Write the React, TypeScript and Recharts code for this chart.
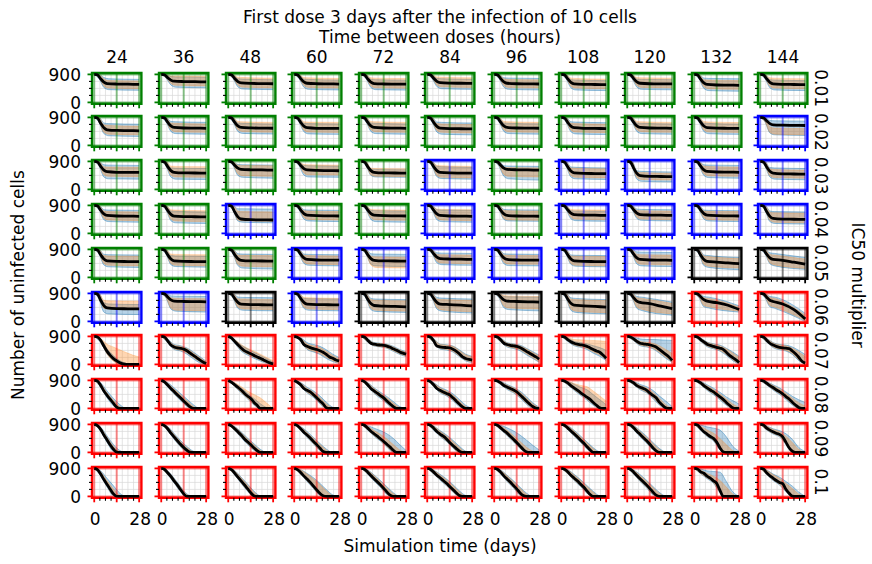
import React from 'react';
import { ComposedChart, Area, Line, XAxis, YAxis, CartesianGrid, ReferenceLine, ReferenceArea } from 'recharts';

const FONT = '"DejaVu Sans", sans-serif';

const DOSE_INTERVALS = [24, 36, 48, 60, 72, 84, 96, 108, 120, 132, 144];
const IC50_MULTIPLIERS = ['0.01', '0.02', '0.03', '0.04', '0.05', '0.06', '0.07', '0.08', '0.09', '0.1'];

const TOP_DAYS = [0, 2, 4, 6, 8, 14, 21, 28];
const TOP_BAND_DAYS = [0, 3, 6, 9, 28];
const LOW_DAYS = [0, 2, 4, 6, 8, 10, 12, 14, 16, 18, 20, 22, 24, 26, 28];
const LOW_BAND_DAYS = [0, 4, 8, 12, 16, 20, 24, 28];
const X_TICKS = [0, 3.5, 7, 10.5, 14, 17.5, 21, 24.5, 28];
const Y_TICKS = [0, 225, 450, 675, 900];
const X_MAJOR = [0, 14, 28];
const Y_MAJOR = [0, 900];

const BORDER_001 = 'GGGGGGGGGGG';
const BORDER_002 = 'GGGGGGGGGGB';
const BORDER_003 = 'GGGGGBGBBBB';
const BORDER_004 = 'GGBGGBGBBBB';
const BORDER_005 = 'GGGBBBBBBKK';
const BORDER_006 = 'BBKBKKKKKRR';
const BORDER_007 = 'RRRRRRRRRRR';
const BORDER_008 = 'RRRRRRRRRRR';
const BORDER_009 = 'RRRRRRRRRRR';
const BORDER_010 = 'RRRRRRRRRRR';

// ---- IC50 0.01 ----
const MED_001 = [[900,885,760,652,605,590,585,580],[900,888,796,716,681,670,665,660],[900,885,770,668,625,610,605,600],[900,885,765,660,615,600,595,590],[900,884,758,650,603,592,588,585],[900,886,774,676,634,620,615,610],[900,885,765,660,615,600,596,592],[900,884,756,644,596,580,575,570],[900,885,765,660,615,600,597,595],[900,883,747,628,577,560,555,550],[900,884,756,644,596,580,575,570]];
const BLO_001 = [[900,760,480,410,390],[900,780,560,490,470],[900,770,500,430,410],[900,765,490,420,400],[900,760,480,410,395],[900,770,510,440,420],[900,765,490,420,400],[900,760,470,400,380],[900,765,490,420,405],[900,755,450,380,360],[900,760,470,400,380]];
const BHI_001 = [[900,900,800,760,740],[900,900,830,820,810],[900,900,760,750,730],[900,900,750,740,720],[900,900,740,730,715],[900,900,770,760,740],[900,900,790,780,770],[900,900,730,720,700],[900,900,750,740,730],[900,900,780,770,760],[900,900,730,720,700]];
const OLO_001 = [[900,790,530,460,440],[900,800,610,550,530],[900,790,550,490,470],[900,790,540,480,460],[900,785,530,470,455],[900,795,560,500,480],[900,790,540,480,465],[900,785,520,460,440],[900,790,540,480,470],[900,780,500,440,420],[900,785,520,460,440]];
const OHI_001 = [[900,900,760,700,690],[900,900,850,850,840],[900,900,810,800,780],[900,900,800,790,770],[900,900,790,780,765],[900,900,820,810,790],[900,900,760,740,725],[900,900,780,770,750],[900,900,800,790,780],[900,900,730,720,700],[900,900,790,780,760]];

// ---- IC50 0.02 ----
const MED_002 = [[900,880,711,564,501,480,475,470],[900,883,747,628,577,560,555,550],[900,883,747,628,577,562,556,552],[900,882,743,620,568,550,547,545],[900,883,747,628,577,560,555,550],[900,882,738,612,558,540,535,530],[900,883,747,628,577,560,556,552],[900,882,743,620,568,550,545,540],[900,883,747,628,577,560,555,550],[900,883,745,624,572,555,550,545],[900,887,788,700,663,650,645,640]];
const BLO_002 = [[900,740,380,310,290],[900,755,450,380,360],[900,755,450,385,365],[900,750,440,370,355],[900,755,450,380,360],[900,750,430,360,340],[900,755,450,380,362],[900,750,440,370,350],[900,755,450,380,360],[900,755,445,375,355],[900,750,400,340,320]];
const BHI_002 = [[900,900,720,700,680],[900,900,770,760,740],[900,900,720,710,690],[900,900,710,700,690],[900,900,720,710,690],[900,900,750,740,720],[900,900,720,710,692],[900,900,760,750,730],[900,900,720,710,690],[900,900,715,705,685],[900,900,800,790,780]];
const OLO_002 = [[900,770,420,360,340],[900,780,500,440,420],[900,780,500,445,425],[900,775,490,430,415],[900,780,500,440,420],[900,775,480,420,400],[900,780,500,440,422],[900,775,490,430,410],[900,780,500,440,420],[900,780,495,435,415],[900,760,420,360,340]];
const OHI_002 = [[900,900,660,640,620],[900,900,720,710,690],[900,900,770,760,740],[900,900,760,750,740],[900,900,770,760,740],[900,900,700,690,670],[900,900,770,760,742],[900,900,710,700,680],[900,900,770,760,740],[900,900,765,755,735],[900,900,600,560,540]];

// ---- IC50 0.03 ----
const MED_003 = [[900,882,743,620,568,550,547,545],[900,881,734,604,549,530,527,525],[900,886,779,684,644,630,625,620],[900,885,770,668,625,610,605,600],[900,881,734,604,549,530,527,525],[900,881,734,604,549,530,525,520],[900,886,779,684,644,630,625,620],[900,880,727,592,534,515,510,505],[900,877,684,516,444,420,415,410],[900,883,747,628,577,560,555,550],[900,880,720,580,520,500,495,490]];
const BLO_003 = [[900,750,400,340,330],[900,745,400,330,320],[900,770,450,390,360],[900,765,460,400,390],[900,760,450,400,390],[900,745,410,350,330],[900,740,420,340,300],[900,745,400,340,320],[900,730,330,260,240],[900,755,450,380,360],[900,745,400,330,310]];
const BHI_003 = [[900,900,790,780,770],[900,900,690,680,670],[900,900,800,790,780],[900,900,770,760,750],[900,900,650,640,630],[900,900,740,730,710],[900,900,760,750,740],[900,900,720,710,690],[900,900,600,580,560],[900,900,790,780,770],[900,900,700,690,670]];
const OLO_003 = [[900,775,470,420,410],[900,770,460,400,390],[900,790,500,440,420],[900,790,530,470,460],[900,780,470,420,410],[900,770,450,390,370],[900,770,480,420,400],[900,770,450,390,370],[900,760,380,320,300],[900,780,500,440,420],[900,770,440,380,360]];
const OHI_003 = [[900,900,730,720,710],[900,900,750,740,730],[900,900,780,770,760],[900,900,800,790,780],[900,900,680,670,660],[900,900,770,760,740],[900,900,720,700,690],[900,900,690,680,660],[900,900,560,540,520],[900,900,750,740,720],[900,900,660,640,620]];

// ---- IC50 0.04 ----
const MED_004 = [[900,883,747,628,577,560,555,550],[900,882,738,612,558,540,535,530],[900,878,693,532,463,440,435,430],[900,884,752,636,587,570,565,560],[900,884,752,636,587,570,565,560],[900,883,747,628,577,560,555,550],[900,883,747,628,577,560,556,552],[900,885,760,652,605,590,585,580],[900,885,760,652,605,590,585,580],[900,884,752,636,587,570,565,560],[900,878,702,548,482,460,455,450]];
const BLO_004 = [[900,755,440,380,360],[900,750,410,340,320],[900,740,400,360,340],[900,760,460,400,380],[900,760,450,380,360],[900,755,440,380,360],[900,755,450,400,390],[900,765,470,410,390],[900,765,480,420,400],[900,760,460,400,380],[900,740,380,320,300]];
const BHI_004 = [[900,900,760,750,740],[900,900,720,710,690],[900,900,790,790,780],[900,900,760,750,740],[900,900,740,730,720],[900,900,760,750,740],[900,900,770,760,750],[900,900,730,720,710],[900,900,780,770,760],[900,900,750,740,730],[900,900,720,700,690]];
const OLO_004 = [[900,780,490,430,410],[900,775,460,400,380],[900,760,430,400,390],[900,785,510,450,430],[900,785,500,440,420],[900,780,490,430,410],[900,780,480,430,420],[900,790,520,460,440],[900,790,520,460,440],[900,785,500,440,420],[900,765,420,360,340]];
const OHI_004 = [[900,900,720,700,690],[900,900,760,750,730],[900,900,720,700,690],[900,900,730,720,700],[900,900,770,760,750],[900,900,780,770,760],[900,900,740,730,720],[900,900,770,760,750],[900,900,740,730,720],[900,900,720,710,700],[900,900,680,660,650]];

// ---- IC50 0.05 ----
const MED_005 = [[900,880,727,592,534,515,510,505],[900,880,727,592,534,515,510,505],[900,881,734,604,549,530,527,525],[900,883,747,628,577,560,557,555],[900,881,734,604,549,530,527,525],[900,885,760,652,605,590,585,580],[900,883,747,628,577,560,557,555],[900,880,727,592,534,515,510,505],[900,883,747,628,577,560,555,550],[900,880,716,572,515,490,465,440],[900,883,747,628,580,550,490,430]];
const BLO_005 = [[900,745,400,340,320],[900,745,410,350,330],[900,745,380,300,270],[900,755,450,390,370],[900,745,430,370,350],[900,765,470,410,390],[900,755,440,380,370],[900,745,420,360,340],[900,755,430,370,350],[900,740,380,320,250],[900,750,440,370,260]];
const BHI_005 = [[900,900,740,730,720],[900,900,700,690,680],[900,900,760,750,740],[900,900,750,740,730],[900,900,760,750,740],[900,900,790,780,770],[900,900,760,750,740],[900,900,720,710,700],[900,900,820,810,800],[900,900,720,700,640],[900,900,790,770,640]];
const OLO_005 = [[900,770,450,390,370],[900,770,450,390,370],[900,770,420,360,340],[900,780,490,430,410],[900,760,400,320,300],[900,790,520,460,440],[900,780,490,430,420],[900,770,450,390,370],[900,780,480,420,400],[900,765,420,360,300],[900,775,470,400,290]];
const OHI_005 = [[900,900,700,690,680],[900,900,750,740,730],[900,900,720,710,700],[900,900,710,700,690],[900,900,680,660,650],[900,900,740,730,720],[900,900,720,710,700],[900,900,690,680,670],[900,900,740,730,720],[900,900,690,670,610],[900,900,740,720,590]];

// ---- IC50 0.06 ----
const MED_006 = [[900,877,680,508,435,410,405,400],[900,887,783,692,653,640,635,630],[900,882,738,612,558,540,535,530],[900,882,738,612,558,540,535,530],[900,880,716,572,511,490,480,470],[900,882,738,612,558,540,520,500],[900,887,783,692,653,640,630,620],[900,880,720,580,520,500,480,460],[900,884,760,650,610,570,490,410],[900,885,790,700,650,600,520,380],[900,885,780,680,640,560,380,80]];
const BLO_006 = [[900,720,300,240,220],[900,750,400,330,300],[900,745,420,360,340],[900,745,420,360,340],[900,740,380,320,290],[900,745,400,330,270],[900,755,440,380,340],[900,740,360,290,240],[900,750,420,350,200],[900,755,470,430,300],[900,755,470,420,0]];
const BHI_006 = [[900,900,600,560,540],[900,900,820,810,800],[900,900,780,770,760],[900,900,740,730,720],[900,900,740,720,700],[900,900,770,750,720],[900,900,800,790,780],[900,900,760,740,700],[900,900,800,780,620],[900,900,800,780,500],[900,900,800,780,260]];
const OLO_006 = [[900,760,420,400,390],[900,770,430,360,340],[900,770,460,400,380],[900,770,460,400,380],[900,765,420,360,330],[900,770,440,370,310],[900,780,490,430,400],[900,765,400,330,280],[900,775,460,390,240],[900,780,510,470,330],[900,780,510,460,30]];
const OHI_006 = [[900,900,680,660,650],[900,900,760,740,730],[900,900,730,720,700],[900,900,770,760,740],[900,900,700,680,660],[900,900,720,700,680],[900,900,830,820,800],[900,900,720,700,670],[900,900,760,740,580],[900,900,760,740,460],[900,900,770,740,200]];

// ---- IC50 0.07 ----
const MED_007 = [[900,880,775,590,420,290,185,115,50,15,0,0,0,0,0],[900,880,760,620,560,530,515,490,440,360,290,220,145,80,30],[900,850,740,630,530,440,390,340,290,240,195,145,95,50,20],[900,870,800,640,580,540,505,480,440,390,320,240,195,140,110],[900,880,780,680,650,630,620,610,590,550,500,455,400,360,330],[900,880,760,590,565,550,540,530,490,430,340,240,190,160,140],[900,880,790,680,640,610,595,580,540,485,420,360,300,240,170],[900,880,800,730,680,650,630,610,580,530,480,430,390,300,200],[900,880,820,740,680,660,645,630,600,560,480,400,320,240,130],[900,880,800,725,650,610,580,550,520,485,390,290,220,145,60],[900,880,780,680,620,580,550,530,520,510,430,340,230,100,40]];
const BLO_007 = [[900,700,340,120,10,0,0,0],[900,700,480,430,330,180,50,0],[900,680,430,300,200,110,30,0],[900,740,480,400,320,190,90,30],[900,720,590,560,520,420,320,250],[900,700,490,460,400,250,110,60],[900,730,560,510,440,310,190,70],[900,740,600,550,480,360,260,120],[900,760,600,560,500,360,200,60],[900,740,570,500,430,290,120,0],[900,720,540,470,430,320,120,0]];
const BHI_007 = [[900,820,500,280,120,30,0,0],[900,820,640,600,530,400,250,100],[900,800,620,500,390,290,180,80],[900,860,700,640,580,470,330,220],[900,830,700,680,650,580,480,410],[900,830,650,630,590,470,330,260],[900,850,700,660,620,520,410,300],[900,850,740,700,660,600,540,450],[900,880,820,800,800,790,780,770],[900,850,720,660,620,520,400,260],[900,840,700,640,620,560,450,320]];
const OLO_007 = [[900,720,330,100,0,0,0,0],[900,720,500,450,370,220,90,0],[900,700,460,330,230,140,50,0],[900,750,500,420,350,230,120,40],[900,730,600,570,530,440,340,270],[900,710,510,480,420,270,130,80],[900,740,580,530,470,340,210,90],[900,760,620,570,510,400,300,160],[900,770,620,580,520,390,230,80],[900,750,590,520,450,320,150,20],[900,730,560,490,450,350,150,10]];
const OHI_007 = [[900,830,650,560,470,380,300,240],[900,800,620,580,510,370,220,80],[900,800,640,520,430,330,220,120],[900,840,660,600,540,420,290,180],[900,820,690,670,640,560,460,390],[900,820,640,620,580,450,310,240],[900,830,690,650,600,500,380,270],[900,870,800,790,780,770,760,740],[900,850,740,710,680,600,480,350],[900,840,710,650,600,500,370,230],[900,830,690,630,600,520,400,250]];

// ---- IC50 0.08 ----
const MED_008 = [[900,880,740,560,420,290,160,40,0,0,0,0,0,0,0],[900,850,750,640,540,440,340,240,140,50,0,0,0,0,0],[900,840,760,680,590,490,400,320,200,100,0,0,0,0,0],[900,840,760,640,580,530,440,340,240,145,20,0,0,0,0],[900,860,760,640,560,490,410,340,240,145,60,0,0,0,0],[900,860,760,640,580,530,480,435,340,240,140,50,0,0,0],[900,880,820,735,690,640,590,530,440,340,240,145,60,10,0],[900,880,820,735,660,590,510,435,360,290,190,100,20,0,0],[900,880,820,735,680,640,590,500,420,340,200,100,20,0,0],[900,880,820,735,660,590,530,450,370,290,190,100,20,0,0],[900,880,810,730,670,600,540,470,380,300,200,110,30,0,0]];
const BLO_008 = [[900,680,340,80,0,0,0,0],[900,690,460,250,60,0,0,0],[900,700,500,310,110,0,0,0],[900,700,500,350,150,0,0,0],[900,700,480,320,150,0,0,0],[900,700,500,400,250,60,0,0],[900,770,610,500,340,140,0,0],[900,760,580,420,270,100,0,0],[900,760,600,500,320,110,0,0],[900,760,580,440,280,100,0,0],[900,750,590,450,290,110,0,0]];
const BHI_008 = [[900,820,560,320,120,0,0,0],[900,830,660,480,300,120,0,0],[900,820,660,490,320,150,30,0],[900,830,680,560,400,200,40,0],[900,830,660,520,380,220,60,0],[900,830,680,590,470,290,100,0],[900,870,770,680,560,380,180,40],[900,870,780,680,600,440,280,120],[900,870,770,700,580,400,240,60],[900,870,760,650,520,370,250,140],[900,860,760,660,530,390,280,190]];
const OLO_008 = [[900,700,380,120,0,0,0,0],[900,700,480,280,90,0,0,0],[900,710,520,330,130,0,0,0],[900,710,520,380,180,0,0,0],[900,710,500,350,180,20,0,0],[900,710,520,420,280,90,0,0],[900,780,630,520,370,170,20,0],[900,770,600,450,300,130,0,0],[900,770,620,520,350,140,0,0],[900,770,600,470,310,130,0,0],[900,760,610,480,320,140,0,0]];
const OHI_008 = [[900,800,500,260,60,0,0,0],[900,810,620,440,250,70,0,0],[900,830,700,560,450,340,170,0],[900,820,650,520,350,150,20,0],[900,820,640,490,340,170,30,0],[900,820,660,560,430,240,60,0],[900,860,750,660,530,340,150,20],[900,870,800,740,700,560,400,240],[900,860,740,660,520,320,120,0],[900,860,730,610,470,300,140,30],[900,850,740,630,490,330,180,80]];

// ---- IC50 0.09 ----
const MED_009 = [[900,860,740,560,400,240,100,10,0,0,0,0,0,0,0],[900,860,760,620,500,380,260,160,70,10,0,0,0,0,0],[900,850,760,660,560,440,340,250,150,60,0,0,0,0,0],[900,860,760,650,560,460,350,250,140,30,0,0,0,0,0],[900,870,780,680,600,520,440,350,260,170,70,0,0,0,0],[900,870,780,670,590,520,430,320,220,130,40,0,0,0,0],[900,870,790,700,620,520,420,320,210,100,20,0,0,0,0],[900,870,790,690,600,500,400,300,190,80,0,0,0,0,0],[900,880,790,680,580,480,380,270,150,50,0,0,0,0,0],[900,880,770,665,590,510,450,330,150,20,0,0,0,0,0],[900,880,780,717,660,614,580,500,330,150,40,0,0,0,0]];
const BLO_009 = [[900,680,320,30,0,0,0,0],[900,700,420,180,10,0,0,0],[900,700,480,260,70,0,0,0],[900,700,480,270,60,0,0,0],[900,720,520,360,170,0,0,0],[900,720,510,350,140,0,0,0],[900,730,540,340,130,0,0,0],[900,730,520,320,110,0,0,0],[900,730,500,300,80,0,0,0],[900,710,510,370,80,0,0,0],[900,720,590,500,250,0,0,0]];
const BHI_009 = [[900,810,530,250,60,0,0,0],[900,830,610,380,190,40,0,0],[900,830,660,460,280,100,0,0],[900,830,670,480,290,110,0,0],[900,860,780,700,600,450,250,60],[900,850,700,560,390,200,40,0],[900,870,790,690,560,400,230,80],[900,860,710,530,340,150,20,0],[900,860,700,520,320,130,10,0],[900,880,820,780,720,500,200,40],[900,850,760,700,600,420,160,30]];
const OLO_009 = [[900,700,350,60,0,0,0,0],[900,710,440,200,30,0,0,0],[900,710,500,280,90,0,0,0],[900,710,500,290,80,0,0,0],[900,730,540,380,190,20,0,0],[900,730,530,370,160,0,0,0],[900,740,560,360,150,0,0,0],[900,740,540,340,130,0,0,0],[900,740,520,320,100,0,0,0],[900,720,530,390,100,0,0,0],[900,730,610,520,270,0,0,0]];
const OHI_009 = [[900,790,490,200,30,0,0,0],[900,820,580,350,160,20,0,0],[900,820,640,430,250,70,0,0],[900,820,640,450,260,80,0,0],[900,840,700,580,430,250,80,0],[900,840,680,530,350,160,20,0],[900,850,710,540,360,170,40,0],[900,850,690,500,310,120,0,0],[900,850,670,490,290,100,0,0],[900,840,720,620,450,250,60,0],[900,840,740,670,520,320,100,0]];

// ---- IC50 0.1 ----
const MED_010 = [[900,860,720,540,380,230,80,0,0,0,0,0,0,0,0],[900,870,760,640,500,370,220,80,0,0,0,0,0,0,0],[900,860,750,620,500,380,250,120,20,0,0,0,0,0,0],[900,860,770,660,560,450,330,210,100,20,0,0,0,0,0],[900,870,780,670,570,470,370,260,140,40,0,0,0,0,0],[900,870,780,680,600,510,420,320,220,120,30,0,0,0,0],[900,870,780,660,560,460,350,240,120,30,0,0,0,0,0],[900,870,790,680,590,500,400,300,180,60,0,0,0,0,0],[900,870,780,670,570,470,370,260,140,40,0,0,0,0,0],[900,880,790,745,650,590,500,420,200,0,0,0,0,0,0],[900,880,760,665,590,510,450,410,230,100,10,0,0,0,0]];
const BLO_010 = [[900,660,300,20,0,0,0,0],[900,700,430,150,0,0,0,0],[900,690,420,170,0,0,0,0],[900,710,480,250,30,0,0,0],[900,720,490,290,60,0,0,0],[900,720,520,340,140,0,0,0],[900,720,480,270,40,0,0,0],[900,730,510,320,100,0,0,0],[900,720,480,280,50,0,0,0],[900,730,570,420,120,0,0,0],[900,700,510,370,150,0,0,0]];
const BHI_010 = [[900,820,580,340,100,0,0,0],[900,820,590,320,80,0,0,0],[900,830,620,400,170,20,0,0],[900,860,740,600,420,220,50,0],[900,850,690,510,310,120,0,0],[900,850,710,560,380,180,30,0],[900,850,680,500,300,110,0,0],[900,860,710,540,350,160,20,0],[900,850,700,520,320,130,10,0],[900,880,820,800,780,480,150,0],[900,850,720,620,480,330,140,0]];
const OLO_010 = [[900,680,330,40,0,0,0,0],[900,710,450,170,0,0,0,0],[900,700,440,190,0,0,0,0],[900,720,500,270,50,0,0,0],[900,730,510,310,80,0,0,0],[900,730,540,360,160,0,0,0],[900,730,500,290,60,0,0,0],[900,740,530,340,120,0,0,0],[900,730,500,300,70,0,0,0],[900,740,590,440,140,0,0,0],[900,710,530,390,170,0,0,0]];
const OHI_010 = [[900,790,500,240,40,0,0,0],[900,810,570,300,60,0,0,0],[900,820,600,370,140,10,0,0],[900,850,720,560,380,180,30,0],[900,840,670,480,280,90,0,0],[900,840,690,530,350,150,10,0],[900,840,660,470,270,80,0,0],[900,850,690,510,320,130,0,0],[900,840,670,490,290,100,0,0],[900,850,740,650,520,300,80,0],[900,840,700,580,420,250,80,0]];

const ROWS = [
  { border: BORDER_001, med: MED_001, blo: BLO_001, bhi: BHI_001, olo: OLO_001, ohi: OHI_001, days: TOP_DAYS, bandDays: TOP_BAND_DAYS },
  { border: BORDER_002, med: MED_002, blo: BLO_002, bhi: BHI_002, olo: OLO_002, ohi: OHI_002, days: TOP_DAYS, bandDays: TOP_BAND_DAYS },
  { border: BORDER_003, med: MED_003, blo: BLO_003, bhi: BHI_003, olo: OLO_003, ohi: OHI_003, days: TOP_DAYS, bandDays: TOP_BAND_DAYS },
  { border: BORDER_004, med: MED_004, blo: BLO_004, bhi: BHI_004, olo: OLO_004, ohi: OHI_004, days: TOP_DAYS, bandDays: TOP_BAND_DAYS },
  { border: BORDER_005, med: MED_005, blo: BLO_005, bhi: BHI_005, olo: OLO_005, ohi: OHI_005, days: TOP_DAYS, bandDays: TOP_BAND_DAYS },
  { border: BORDER_006, med: MED_006, blo: BLO_006, bhi: BHI_006, olo: OLO_006, ohi: OHI_006, days: TOP_DAYS, bandDays: TOP_BAND_DAYS },
  { border: BORDER_007, med: MED_007, blo: BLO_007, bhi: BHI_007, olo: OLO_007, ohi: OHI_007, days: LOW_DAYS, bandDays: LOW_BAND_DAYS },
  { border: BORDER_008, med: MED_008, blo: BLO_008, bhi: BHI_008, olo: OLO_008, ohi: OHI_008, days: LOW_DAYS, bandDays: LOW_BAND_DAYS },
  { border: BORDER_009, med: MED_009, blo: BLO_009, bhi: BHI_009, olo: OLO_009, ohi: OHI_009, days: LOW_DAYS, bandDays: LOW_BAND_DAYS },
  { border: BORDER_010, med: MED_010, blo: BLO_010, bhi: BHI_010, olo: OLO_010, ohi: OHI_010, days: LOW_DAYS, bandDays: LOW_BAND_DAYS },
];

const COLORS: Record<string, string> = { G: '#008000', B: '#0000ff', K: '#000000', R: '#ff0000' };

// layout
const PLOT_LEFT0 = 92.3;
const COL_PITCH = 66.6;
const PLOT_W = 49.4;
const PLOT_TOP0 = 72.7;
const ROW_PITCH = 43.78;
const PLOT_H = 30.8;
const AXIS_W = 52;
const AXIS_H = 36;
const PAD_TOP = 10;
const PAD_RIGHT = 16;
const X_DOMAIN: [number, number] = [-1.4, 29.4];
const Y_DOMAIN: [number, number] = [-45, 945];

function XTick(props: any) {
  const { x, y, payload, color, show } = props;
  const v = payload.value;
  const major = X_MAJOR.includes(v);
  return (
    <g>
      <line x1={x} x2={x} y1={y} y2={y + (major ? 4.5 : 3)} stroke={major ? color : '#000'} strokeWidth={major ? 1.8 : 1.1} />
      {show && (v === 0 || v === 28) ? (
        <text x={x + 1} y={y + 27.5} textAnchor="middle" fontSize={17} fontFamily={FONT} fill="#000">{v}</text>
      ) : null}
    </g>
  );
}

function YTick(props: any) {
  const { x, y, payload, color, show } = props;
  const v = payload.value;
  const major = Y_MAJOR.includes(v);
  return (
    <g>
      <line x1={x} x2={x - (major ? 4.5 : 3)} y1={y} y2={y} stroke={major ? color : '#000'} strokeWidth={major ? 1.8 : 1.1} />
      {show && major ? (
        <text x={x - 11} y={y + 6.3} textAnchor="end" fontSize={17} fontFamily={FONT} fill="#000">{v}</text>
      ) : null}
    </g>
  );
}

function Panel({ r, c }: { r: number; c: number }) {
  const row = ROWS[r];
  const color = COLORS[row.border[c]];
  const med = row.med[c].map((v: number, i: number) => ({ t: row.days[i], v }));
  const blue = row.blo[c].map((v: number, i: number) => ({ t: row.bandDays[i], b: [v, row.bhi[c][i]] }));
  const orange = row.olo[c].map((v: number, i: number) => ({ t: row.bandDays[i], o: [v, row.ohi[c][i]] }));
  const left = PLOT_LEFT0 + c * COL_PITCH - AXIS_W;
  const top = PLOT_TOP0 + r * ROW_PITCH - PAD_TOP;
  const showX = r === ROWS.length - 1;
  const showY = c === 0;
  return (
    <div style={{ position: 'absolute', left, top }}>
      <ComposedChart width={AXIS_W + PLOT_W + PAD_RIGHT} height={PAD_TOP + PLOT_H + AXIS_H} margin={{ top: PAD_TOP, right: PAD_RIGHT, bottom: 0, left: 0 }}>
        <CartesianGrid stroke="#d8d8d8" strokeWidth={0.7} />
        <XAxis type="number" dataKey="t" domain={X_DOMAIN} allowDataOverflow ticks={X_TICKS} interval={0} axisLine={false} tickLine={false} tickSize={0} tickMargin={0} height={AXIS_H}
          tick={(p: any) => <XTick {...p} color={color} show={showX} />} />
        <YAxis type="number" domain={Y_DOMAIN} allowDataOverflow ticks={Y_TICKS} interval={0} axisLine={false} tickLine={false} tickSize={0} tickMargin={0} width={AXIS_W}
          tick={(p: any) => <YTick {...p} color={color} show={showY} />} />
        <Area data={blue} dataKey="b" type="monotone" fill="#1f77b4" fillOpacity={0.32} stroke="#1f77b4" strokeOpacity={0.55} strokeWidth={0.8} dot={false} activeDot={false} isAnimationActive={false} />
        <Area data={orange} dataKey="o" type="monotone" fill="#ff7f0e" fillOpacity={0.32} stroke="#ff7f0e" strokeOpacity={0.4} strokeWidth={0.6} dot={false} activeDot={false} isAnimationActive={false} />
        {X_MAJOR.map((x) => <ReferenceLine key={'x' + x} x={x} stroke={color} strokeOpacity={0.45} strokeWidth={2} ifOverflow="visible" />)}
        {Y_MAJOR.map((y) => <ReferenceLine key={'y' + y} y={y} stroke={color} strokeOpacity={0.45} strokeWidth={2} ifOverflow="visible" />)}
        <Line data={med} dataKey="v" type="monotone" stroke="#000" strokeWidth={2.8} dot={false} activeDot={false} isAnimationActive={false} />
        <ReferenceArea x1={X_DOMAIN[0]} x2={X_DOMAIN[1]} y1={Y_DOMAIN[0]} y2={Y_DOMAIN[1]} fill="none" stroke={color} strokeWidth={2.4} ifOverflow="visible" />
      </ComposedChart>
    </div>
  );
}

export default function App() {
  const textProps = { fontFamily: FONT, fontSize: 17, fill: '#000' };
  const midY = PLOT_TOP0 + (9 * ROW_PITCH + PLOT_H) / 2;
  return (
    <div style={{ position: 'absolute', left: 0, top: 0, width: 872, height: 564, background: '#fff', overflow: 'hidden' }}>
      <svg width={872} height={564} style={{ position: 'absolute', left: 0, top: 0 }}>
        <text x={440} y={23} textAnchor="middle" {...textProps}>First dose 3 days after the infection of 10 cells</text>
        <text x={440} y={43} textAnchor="middle" {...textProps}>Time between doses (hours)</text>
        {DOSE_INTERVALS.map((d, c) => (
          <text key={d} x={PLOT_LEFT0 + c * COL_PITCH + PLOT_W / 2} y={63} textAnchor="middle" {...textProps}>{d}</text>
        ))}
        {IC50_MULTIPLIERS.map((m, r) => (
          <text key={m} transform={`translate(815, ${PLOT_TOP0 + r * ROW_PITCH + PLOT_H / 2}) rotate(90)`} textAnchor="middle" {...textProps}>{m}</text>
        ))}
        <text transform={`translate(852, ${midY}) rotate(90)`} textAnchor="middle" {...textProps}>IC50 multiplier</text>
        <text transform={`translate(24, ${midY}) rotate(-90)`} textAnchor="middle" {...textProps}>Number of uninfected cells</text>
        <text x={440} y={552} textAnchor="middle" {...textProps}>Simulation time (days)</text>
      </svg>
      {ROWS.map((_, r) => DOSE_INTERVALS.map((__, c) => <Panel key={r + '-' + c} r={r} c={c} />))}
    </div>
  );
}
